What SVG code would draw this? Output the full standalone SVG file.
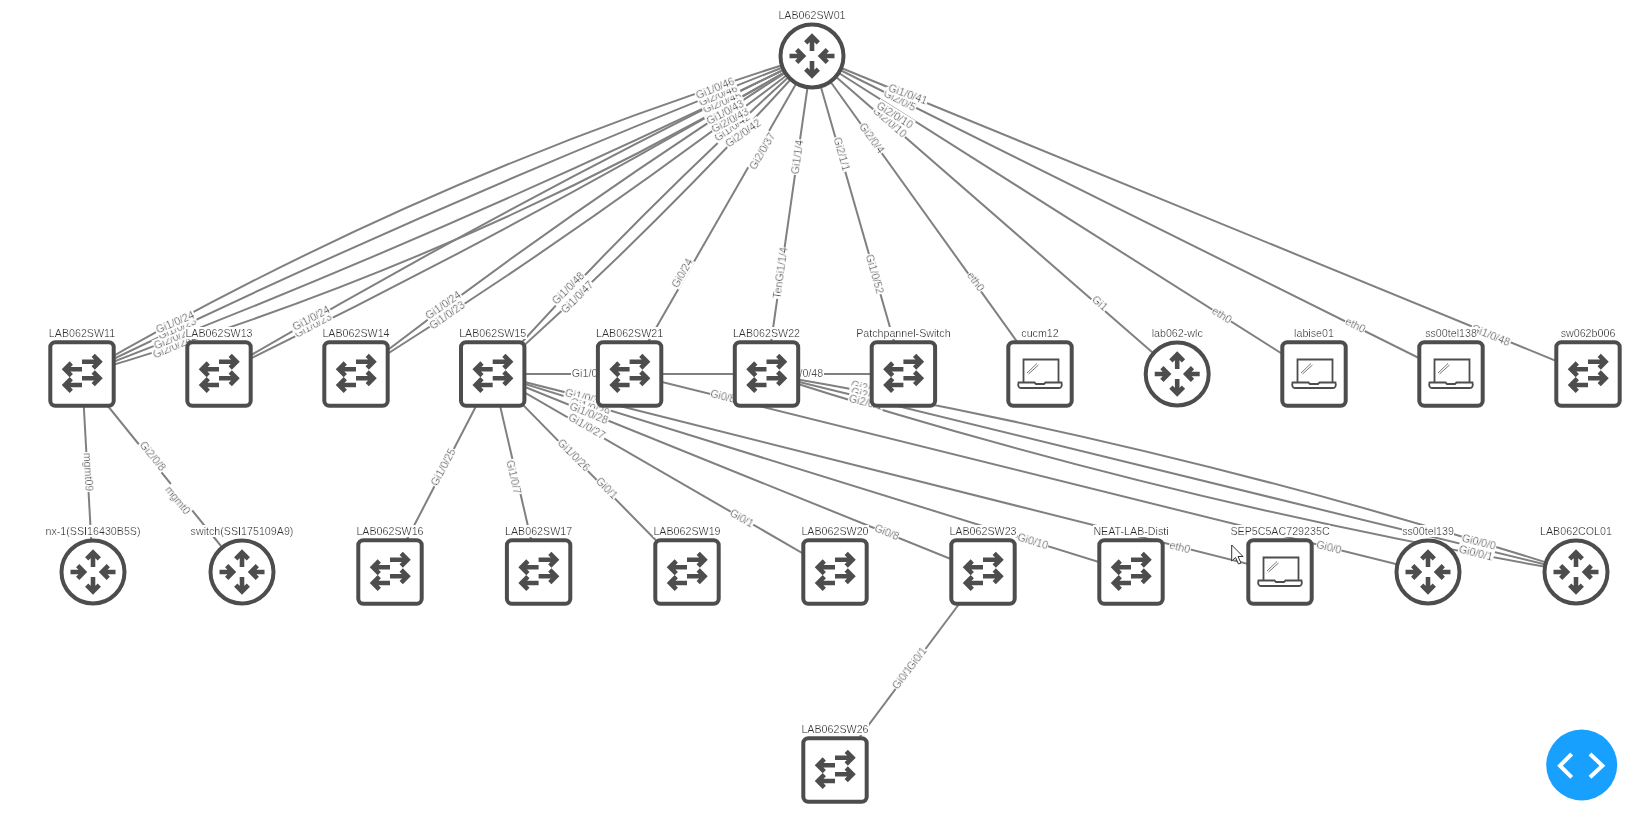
<svg xmlns="http://www.w3.org/2000/svg" width="1635" height="823" viewBox="0 0 1635 823">
<style>
.e{fill:none;stroke:#808080;stroke-width:2}
.l{font:10.7px "Liberation Sans",Arial,sans-serif;fill:#4a4a4a;text-anchor:middle;dominant-baseline:central;filter:url(#bg)}
.n{font:10.7px "Liberation Sans",Arial,sans-serif;fill:#2e2e2e;text-anchor:middle;filter:url(#bg)}
.b{fill:#fff;stroke:#4d4d4d;stroke-width:4}
.a{fill:none;stroke:#4d4d4d;stroke-width:4.600}
</style>
<defs>
<filter id="bg" x="0" y="0" width="1" height="1">
<feFlood flood-color="#fff"/>
<feComposite in="SourceGraphic" operator="over"/>
</filter>
<g id="router">
<circle class="b" r="31.5"/>
<path class="a" d="M0-5V-19.500M-6.300-13.200 0-19.500 6.300-13.200M0 5V19.500M-6.300 13.200 0 19.500 6.300 13.200M-22.500 0H-9M-15.300-6.300-9 0-15.300 6.300M22.500 0H9M15.300-6.300 9 0 15.300 6.300"/>
</g>
<g id="switch">
<rect class="b" x="-31.700" y="-31.700" width="63.400" height="63.400" rx="5"/>
<path class="a" d="M0-12.300H17.500M11.200-18.600 17.500-12.300 11.200-6M0 4.300H17.500M11.200-2 17.500 4.300 11.200 10.600M0-4.700H-17M-10.700-11-17-4.700-10.700 1.600M0 11H-17M-10.700 4.700-17 11-10.700 17.300"/>
</g>
<g id="laptop">
<rect class="b" x="-31.700" y="-31.700" width="63.400" height="63.400" rx="5"/>
<path fill="none" stroke="#4d4d4d" stroke-width="1.800" d="M-16.500 8V-14.500H18.500V8M-21.500 8.500H-5.500L-4 10H4L5.500 8.500H21.500C22.500 12 21 14 19 14H-19C-21 14-22.500 12-21.500 8.500Z"/>
<path fill="none" stroke="#777" stroke-width="1" d="M-13-1-3-10.500M-11.500 0-1.500-9"/>
</g>
</defs>
<g id="connectors">
<path class="e" d="M812 56Q428.600 172.800 82 374"/>
<path class="e" d="M812 56Q440.600 200.300 82 374"/>
<path class="e" d="M812 56Q454.200 231.500 82 374"/>
<path class="e" d="M812 56Q467.800 262.700 82 374"/>
<path class="e" d="M812 56Q508.900 202.700 219 374"/>
<path class="e" d="M812 56Q522.100 227.300 219 374"/>
<path class="e" d="M812 56Q576.600 204.300 356 374"/>
<path class="e" d="M812 56Q591.400 225.700 356 374"/>
<path class="e" d="M812 56Q643.900 206.500 492.700 374"/>
<path class="e" d="M812 56Q660.800 223.500 492.700 374"/>
<path class="e" d="M812 56L629.600 374"/>
<path class="e" d="M812 56L766.500 374"/>
<path class="e" d="M812 56L903.400 374"/>
<path class="e" d="M812 56L1040.300 374"/>
<path class="e" d="M812 56L1177.200 374"/>
<path class="e" d="M812 56L1314 374"/>
<path class="e" d="M812 56L1451 374"/>
<path class="e" d="M812 56L1588 374"/>
<path class="e" d="M82 374L93 572"/>
<path class="e" d="M82 374L242 572"/>
<path class="e" d="M492.700 374L390 572"/>
<path class="e" d="M492.700 374L538.600 572"/>
<path class="e" d="M492.700 374L687 572"/>
<path class="e" d="M492.700 374L835 572"/>
<path class="e" d="M492.700 374L983 572"/>
<path class="e" d="M492.700 374L1131 572"/>
<path class="e" d="M492.700 374L1280 572"/>
<path class="e" d="M492.700 374H629.600"/>
<path class="e" d="M629.600 374H766.500"/>
<path class="e" d="M766.500 374H903.400"/>
<path class="e" d="M629.600 374L1428 572"/>
<path class="e" d="M766.500 374Q1178.400 443.900 1576 572"/>
<path class="e" d="M766.500 374L1576 572"/>
<path class="e" d="M766.500 374Q1164.100 502.100 1576 572"/>
<path class="e" d="M983 572L835 770"/>
</g>
<g id="edge-labels">
<text class="l" transform="translate(724 108) rotate(-22)">Gi2/0/44</text>
<text class="l" transform="translate(722 102) rotate(-22)">Gi2/0/45</text>
<text class="l" transform="translate(718 95) rotate(-22)">Gi2/0/46</text>
<text class="l" transform="translate(715 88) rotate(-22)">Gi1/0/46</text>
<text class="l" transform="translate(732 127) rotate(-35)">Gi1/0/42</text>
<text class="l" transform="translate(730 120) rotate(-28)">Gi2/0/43</text>
<text class="l" transform="translate(725 112) rotate(-28)">Gi1/0/43</text>
<text class="l" transform="translate(743 133) rotate(-35)">Gi2/0/42</text>
<text class="l" transform="translate(762 151) rotate(-60)">Gi2/0/37</text>
<text class="l" transform="translate(797 157) rotate(-82)">Gi1/1/4</text>
<text class="l" transform="translate(842 154) rotate(74)">Gi2/1/1</text>
<text class="l" transform="translate(872 138) rotate(54)">Gi2/0/4</text>
<text class="l" transform="translate(890 122) rotate(41)">Gi2/0/10</text>
<text class="l" transform="translate(900 100) rotate(27)">Gi2/0/5</text>
<text class="l" transform="translate(895 115) rotate(32)">Gi2/0/10</text>
<text class="l" transform="translate(908 94) rotate(20)">Gi1/0/41</text>
<text class="l" transform="translate(875 274) rotate(74)">Gi1/0/52</text>
<text class="l" transform="translate(780 273) rotate(-82)">TenGi1/1/4</text>
<text class="l" transform="translate(682 273) rotate(-60)">Gi0/24</text>
<text class="l" transform="translate(976 281.500) rotate(54)">eth0</text>
<text class="l" transform="translate(1100 303) rotate(41)">Gi1</text>
<text class="l" transform="translate(1222 315) rotate(32)">eth0</text>
<text class="l" transform="translate(1355.500 325) rotate(27)">eth0</text>
<text class="l" transform="translate(1491 335) rotate(22)">Gi1/0/48</text>
<text class="l" transform="translate(577 297) rotate(-45)">Gi1/0/47</text>
<text class="l" transform="translate(568 288) rotate(-45)">Gi1/0/48</text>
<text class="l" transform="translate(447 315) rotate(-35)">Gi1/0/23</text>
<text class="l" transform="translate(443 305) rotate(-35)">Gi1/0/24</text>
<text class="l" transform="translate(313 325) rotate(-28)">Gi1/0/23</text>
<text class="l" transform="translate(311 318) rotate(-28)">Gi1/0/24</text>
<text class="l" transform="translate(172 347) rotate(-23)">Gi2/0/24</text>
<text class="l" transform="translate(173 338) rotate(-23)">Gi2/0/23</text>
<text class="l" transform="translate(177 328) rotate(-23)">Gi1/0/23</text>
<text class="l" transform="translate(175 322) rotate(-23)">Gi1/0/24</text>
<text class="l" transform="translate(88.600 472) rotate(87)">mgmt09</text>
<text class="l" transform="translate(153 456) rotate(51)">Gi2/0/8</text>
<text class="l" transform="translate(178 500) rotate(51)">mgmt0</text>
<text class="l" transform="translate(443 467) rotate(-62)">Gi1/0/25</text>
<text class="l" transform="translate(514 477) rotate(77)">Gi1/0/7</text>
<text class="l" transform="translate(574 455) rotate(45)">Gi1/0/26</text>
<text class="l" transform="translate(607 488) rotate(45)">Gi0/1</text>
<text class="l" transform="translate(585 397) rotate(14)">Gi1/0/31</text>
<text class="l" transform="translate(590 407) rotate(17)">Gi1/0/29</text>
<text class="l" transform="translate(589 413) rotate(22)">Gi1/0/28</text>
<text class="l" transform="translate(587 426) rotate(30)">Gi1/0/27</text>
<text class="l" transform="translate(742 518) rotate(30)">Gi0/1</text>
<text class="l" transform="translate(887 532) rotate(22)">Gi0/8</text>
<text class="l" transform="translate(1033 541) rotate(17)">Gi0/10</text>
<text class="l" transform="translate(1180 547) rotate(14)">eth0</text>
<text class="l" transform="translate(723 396) rotate(14)">Gi0/8</text>
<text class="l" transform="translate(1329 547) rotate(14)">Gi0/0</text>
<text class="l" transform="translate(592 373)">Gi1/0/31</text>
<text class="l" transform="translate(803 373)">Gi1/0/48</text>
<text class="l" transform="translate(868 388) rotate(14)">Gi2/0/3</text>
<text class="l" transform="translate(868 395) rotate(14)">Gi2/0/2</text>
<text class="l" transform="translate(866 402) rotate(14)">Gi2/0/1</text>
<text class="l" transform="translate(1477 548) rotate(14)">Gi0/0/2</text>
<text class="l" transform="translate(1479 541.700) rotate(14)">Gi0/0/0</text>
<text class="l" transform="translate(1476 552.700) rotate(14)">Gi0/0/1</text>
<text class="l" transform="translate(902 677.500) rotate(-53)">Gi0/1</text>
<text class="l" transform="translate(916.500 658.500) rotate(-53)">Gi0/1</text>
</g>
<g id="n-sw01"><use href="#router" x="812" y="56"/><text class="n" x="812" y="19">LAB062SW01</text></g>
<g id="n-sw11"><use href="#switch" x="82" y="374"/><text class="n" x="82" y="337">LAB062SW11</text></g>
<g id="n-sw13"><use href="#switch" x="219" y="374"/><text class="n" x="219" y="337">LAB062SW13</text></g>
<g id="n-sw14"><use href="#switch" x="356" y="374"/><text class="n" x="356" y="337">LAB062SW14</text></g>
<g id="n-sw15"><use href="#switch" x="492.700" y="374"/><text class="n" x="492.700" y="337">LAB062SW15</text></g>
<g id="n-sw21"><use href="#switch" x="629.600" y="374"/><text class="n" x="629.600" y="337">LAB062SW21</text></g>
<g id="n-sw22"><use href="#switch" x="766.500" y="374"/><text class="n" x="766.500" y="337">LAB062SW22</text></g>
<g id="n-patch"><use href="#switch" x="903.400" y="374"/><text class="n" x="903.400" y="337">Patchpannel-Switch</text></g>
<g id="n-cucm12"><use href="#laptop" x="1040" y="374"/><text class="n" x="1040" y="337">cucm12</text></g>
<g id="n-wlc"><use href="#router" x="1177.200" y="374"/><text class="n" x="1177.200" y="337">lab062-wlc</text></g>
<g id="n-labise01"><use href="#laptop" x="1314" y="374"/><text class="n" x="1314" y="337">labise01</text></g>
<g id="n-ss138"><use href="#laptop" x="1451" y="374"/><text class="n" x="1451" y="337">ss00tel138</text></g>
<g id="n-sw062b006"><use href="#switch" x="1588" y="374"/><text class="n" x="1588" y="337">sw062b006</text></g>
<g id="n-nx1"><use href="#router" x="93" y="572"/><text class="n" x="93" y="535">nx-1(SSI16430B5S)</text></g>
<g id="n-switch"><use href="#router" x="242" y="572"/><text class="n" x="242" y="535">switch(SSI175109A9)</text></g>
<g id="n-sw16"><use href="#switch" x="390" y="572"/><text class="n" x="390" y="535">LAB062SW16</text></g>
<g id="n-sw17"><use href="#switch" x="538.600" y="572"/><text class="n" x="538.600" y="535">LAB062SW17</text></g>
<g id="n-sw19"><use href="#switch" x="687" y="572"/><text class="n" x="687" y="535">LAB062SW19</text></g>
<g id="n-sw20"><use href="#switch" x="835" y="572"/><text class="n" x="835" y="535">LAB062SW20</text></g>
<g id="n-sw23"><use href="#switch" x="983" y="572"/><text class="n" x="983" y="535">LAB062SW23</text></g>
<g id="n-neat"><use href="#switch" x="1131" y="572"/><text class="n" x="1131" y="535">NEAT-LAB-Disti</text></g>
<g id="n-sep"><use href="#laptop" x="1280" y="572"/><text class="n" x="1280" y="535">SEP5C5AC729235C</text></g>
<g id="n-ss139"><use href="#router" x="1428" y="572"/><text class="n" x="1428" y="535">ss00tel139</text></g>
<g id="n-col01"><use href="#router" x="1576" y="572"/><text class="n" x="1576" y="535">LAB062COL01</text></g>
<g id="n-sw26"><use href="#switch" x="835" y="770"/><text class="n" x="835" y="733">LAB062SW26</text></g>
<path id="cursor" fill="#fff" stroke="#333" stroke-width="1" d="M1231.700 545V561L1235.500 557.500 1238.500 564 1241 563 1238 556.500H1243Z"/>
<g id="toggle">
<circle cx="1581.700" cy="765" r="35.500" fill="#18a0ff"/>
<path fill="none" stroke="#fff" stroke-width="4" d="M1571.700 754 1560 765.700 1571.700 777.300M1590 754 1602.400 765.700 1590 777.300"/>
</g>
</svg>
